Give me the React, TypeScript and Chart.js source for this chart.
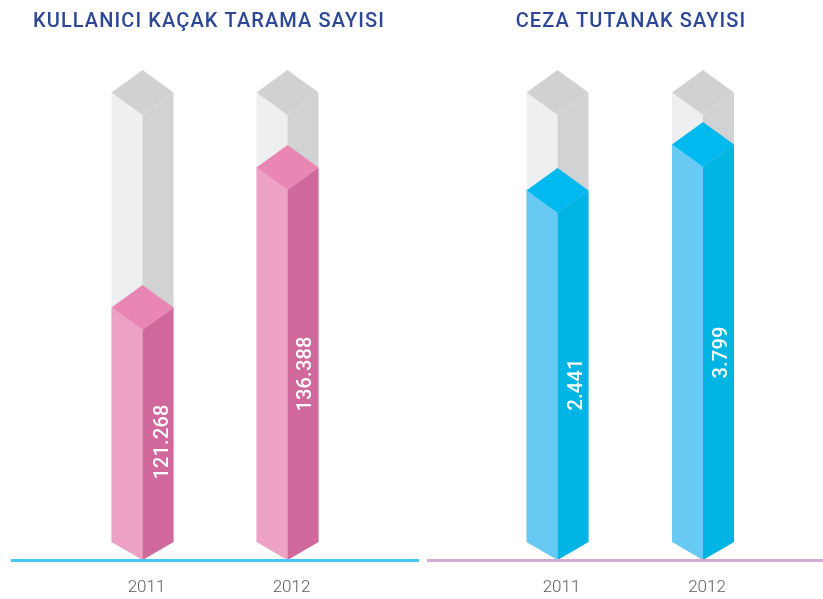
import React, { useEffect, useRef } from "react";
import { Chart, registerables } from "chart.js";

Chart.register(...registerables);

const years = ["2011", "2012"];
const scanTitle = "KULLANICI KAÇAK TARAMA SAYISI";
const scanValues = [121268, 136388];
const scanLabels = ["121.268", "136.388"];
const finesTitle = "CEZA TUTANAK SAYISI";
const finesValues = [2441, 3799];
const finesLabels = ["2.441", "3.799"];

const GRAY = { top: "#d0d1d3", left: "#eeeff0", right: "#d1d2d4" };
const PINK = { top: "#e986b4", left: "#eda1c5", right: "#d1689c" };
const BLUE = { top: "#00b9ee", left: "#68caf2", right: "#00b4e4" };

type Face = { top: string; left: string; right: string };

const poly = (ctx: CanvasRenderingContext2D, pts: number[][], fill: string) => {
  ctx.beginPath();
  pts.forEach(([x, y], i) => (i ? ctx.lineTo(x, y) : ctx.moveTo(x, y)));
  ctx.closePath();
  ctx.fillStyle = fill;
  ctx.fill();
};

const drawPrism = (ctx: CanvasRenderingContext2D, x: number, y: number, base: number, hw: number, c: Face) => {
  const mid = y + 22.5;
  const front = y + 45;
  const low = base - 18;
  poly(ctx, [[x - hw, mid], [x, front], [x, base], [x - hw, low]], c.left);
  poly(ctx, [[x + hw, mid], [x, front], [x, base], [x + hw, low]], c.right);
  poly(ctx, [[x, y], [x + hw, mid], [x, front], [x - hw, mid]], c.top);
};

const prismPlugin = {
  id: "prism",
  afterLayout(chart: any, _a: any, o: any) {
    const t = chart.titleBlock;
    t.left = o.titleCenter - 250;
    t.right = o.titleCenter + 250;
    t.width = 500;
  },
  beforeDraw(chart: any, _a: any, o: any) {
    chart.ctx.letterSpacing = o.titleSpacing;
  },
  beforeDatasetsDraw(chart: any) {
    chart.ctx.letterSpacing = "0px";
  },
  afterDatasetsDraw(chart: any, _a: any, o: any) {
    const ctx: CanvasRenderingContext2D = chart.ctx;
    const bottom = chart.scales.y.bottom;
    ctx.save();
    ctx.filter = "blur(0.6px)";
    chart.getDatasetMeta(0).data.forEach((bar: any) => {
      drawPrism(ctx, bar.x, bar.y, bottom, bar.width / 2, GRAY);
    });
    chart.getDatasetMeta(1).data.forEach((bar: any) => {
      drawPrism(ctx, bar.x, bar.y, bottom, bar.width / 2, o.face);
    });
    ctx.fillStyle = o.lineColor;
    ctx.fillRect(o.lineFrom, bottom - 1, o.lineTo - o.lineFrom, 3);
    ctx.filter = "none";
    chart.getDatasetMeta(1).data.forEach((bar: any, i: number) => {
      const cy = (bar.y + 45 + bottom) / 2 + o.labelShift[i];
      ctx.save();
      ctx.translate(bar.x + o.labelX[i], cy);
      ctx.rotate(-Math.PI / 2);
      ctx.letterSpacing = "0.2px";
      ctx.font = "500 20px Roboto";
      ctx.fillStyle = "#ffffff";
      ctx.textAlign = "center";
      ctx.textBaseline = "middle";
      ctx.fillText(o.labels[i], 0, 0);
      ctx.restore();
    });
    ctx.restore();
  },
};

const makeConfig = (p: any): any => ({
  type: "bar",
  data: {
    labels: years,
    datasets: [
      { label: "Toplam", data: years.map(() => p.max), backgroundColor: "transparent", barThickness: 62, grouped: false, order: 2 },
      { label: p.title, data: p.values, backgroundColor: "transparent", barThickness: 62, grouped: false, order: 1 },
    ],
  },
  plugins: [prismPlugin],
  options: {
    responsive: false,
    animation: false,
    layout: { padding: p.padding },
    scales: {
      x: {
        grid: { display: false, drawTicks: false },
        border: { display: false },
        afterFit: (s: any) => {
          s.height = 39;
        },
        ticks: { z: 1, padding: 18, labelOffset: 4, color: "#5f6062", font: { family: "Roboto", size: 17, weight: "300" } },
      },
      y: { display: false, min: p.min, max: p.max },
    },
    plugins: {
      legend: { display: false },
      tooltip: { enabled: false },
      title: {
        display: true,
        text: p.title,
        color: "#2b4796",
        font: { family: "Roboto", size: 20, weight: "500", lineHeight: 1.2 },
        padding: { top: 10.4, bottom: 35.6 },
      },
      prism: {
        face: p.face,
        labels: p.labels,
        labelShift: p.labelShift,
        labelX: p.labelX,
        lineColor: p.lineColor,
        lineFrom: p.lineFrom,
        lineTo: p.lineTo,
        titleSpacing: p.titleSpacing,
        titleCenter: p.titleCenter,
      },
    },
  },
});

export default function App() {
  const a = useRef<HTMLCanvasElement>(null);
  const b = useRef<HTMLCanvasElement>(null);
  useEffect(() => {
    const left = new Chart(
      a.current as any,
      makeConfig({
        title: scanTitle,
        values: scanValues,
        labels: scanLabels,
        labelShift: [-3, -1],
        labelX: [20, 18.5],
        min: 91568,
        max: 144488,
        face: PINK,
        padding: { left: 71, right: 60 },
        lineColor: "#47c8f2",
        lineFrom: 12,
        lineTo: 420,
        titleSpacing: "1.1px",
        titleCenter: 210,
      })
    );
    const right = new Chart(
      b.current as any,
      makeConfig({
        title: finesTitle,
        values: finesValues,
        labels: finesLabels,
        labelShift: [-2, -11],
        labelX: [19, 19],
        min: -9131,
        max: 5334,
        face: BLUE,
        padding: { left: 57.75, right: 59.25 },
        lineColor: "#d8a9d5",
        lineFrom: 0,
        lineTo: 408,
        titleSpacing: "1.1px",
        titleCenter: 204,
      })
    );
    return () => {
      left.destroy();
      right.destroy();
    };
  }, []);
  return (
    <div style={{ position: "absolute", left: 0, top: 0, width: 823, height: 599, overflow: "hidden", background: "#fff" }}>
      <canvas ref={a} width={421} height={599} style={{ position: "absolute", left: -1, top: 0 }} />
      <canvas ref={b} width={408} height={599} style={{ position: "absolute", left: 427, top: 0 }} />
    </div>
  );
}
